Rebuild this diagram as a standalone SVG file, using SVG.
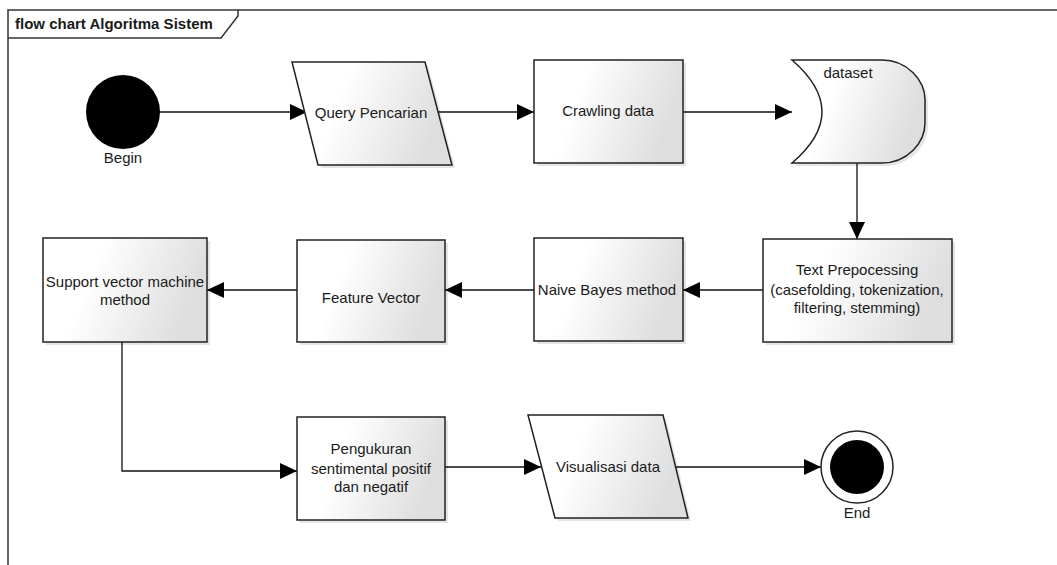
<svg xmlns="http://www.w3.org/2000/svg" width="1057" height="565" viewBox="0 0 1057 565">
<style>
.t{font-family:"Liberation Sans",Arial,sans-serif;font-size:15px;fill:#1a1a1a;text-anchor:middle}
.shape{fill:url(#g);stroke:#222;stroke-width:1.5}
.sh{fill:#000;opacity:0.1}
.c{fill:none;stroke:#111;stroke-width:1.3}
</style>
<defs>
<linearGradient id="g" x1="0" y1="0" x2="1" y2="0.25">
<stop offset="0.35" stop-color="#ffffff"/>
<stop offset="1" stop-color="#dedede"/>
</linearGradient>
<marker id="a" markerWidth="18" markerHeight="16" refX="17" refY="8" orient="auto" markerUnits="userSpaceOnUse">
<path d="M0,0 L17,8 L0,16 Z" fill="#000"/>
</marker>
</defs>
<rect width="1057" height="565" fill="#ffffff"/>
<g id="frame">
<path d="M8,565 L8,10 L1057,10" fill="none" stroke="#333" stroke-width="1.5"/>
<path d="M8,38 L221,38 L238,16 L238,10" fill="none" stroke="#333" stroke-width="1.5"/>
<text x="15" y="29" style="font-family:'Liberation Sans',Arial,sans-serif;font-size:15px;font-weight:bold;fill:#1a1a1a">flow chart Algoritma Sistem</text>
</g>
<g id="connectors">
<line class="c" x1="160" y1="112" x2="307" y2="112" marker-end="url(#a)"/>
<line class="c" x1="438" y1="112" x2="534" y2="112" marker-end="url(#a)"/>
<line class="c" x1="683" y1="112" x2="792" y2="112" marker-end="url(#a)"/>
<line class="c" x1="857" y1="163" x2="857" y2="239" marker-end="url(#a)"/>
<line class="c" x1="763" y1="290" x2="683" y2="290" marker-end="url(#a)"/>
<line class="c" x1="534" y1="290" x2="445" y2="290" marker-end="url(#a)"/>
<line class="c" x1="297" y1="290" x2="207" y2="290" marker-end="url(#a)"/>
<polyline class="c" points="122,342 122,471 297,471" marker-end="url(#a)"/>
<line class="c" x1="445" y1="467" x2="541" y2="467" marker-end="url(#a)"/>
<line class="c" x1="676" y1="467" x2="821" y2="467" marker-end="url(#a)"/>
</g>
<g id="begin">
<circle cx="123" cy="112" r="37" fill="#000"/>
<text class="t" x="123" y="163">Begin</text>
</g>
<g id="query">
<polygon class="sh" points="295,65 428,65 455,168 321,168"/>
<polygon class="shape" points="292,62 425,62 452,165 318,165"/>
<text class="t" x="371" y="118">Query Pencarian</text>
</g>
<g id="crawling">
<rect class="sh" x="537" y="63" width="149" height="103"/>
<rect class="shape" x="534" y="60" width="149" height="103"/>
<text class="t" x="608" y="116">Crawling data</text>
</g>
<g id="dataset">
<path class="sh" d="M795,63 L885,63 C910,63 928,83 928,103 L928,126 C928,146 910,166 885,166 L795,166 Q855,115 795,63 Z"/>
<path class="shape" d="M792,60 L882,60 C907,60 925,80 925,100 L925,123 C925,143 907,163 882,163 L792,163 Q852,112 792,60 Z"/>
<text class="t" x="848" y="78">dataset</text>
</g>
<g id="textprep">
<rect class="sh" x="766" y="242" width="189" height="103"/>
<rect class="shape" x="763" y="239" width="189" height="103"/>
<text class="t" x="857" y="275">Text Prepocessing</text>
<text class="t" x="857" y="295">(casefolding, tokenization,</text>
<text class="t" x="857" y="313">filtering, stemming)</text>
</g>
<g id="naive">
<rect class="sh" x="537" y="241" width="149" height="103"/>
<rect class="shape" x="534" y="238" width="149" height="103"/>
<text class="t" x="607" y="295">Naive Bayes method</text>
</g>
<g id="feature">
<rect class="sh" x="300" y="243" width="148" height="102"/>
<rect class="shape" x="297" y="240" width="148" height="102"/>
<text class="t" x="371" y="303">Feature Vector</text>
</g>
<g id="svm">
<rect class="sh" x="46" y="241" width="164" height="104"/>
<rect class="shape" x="43" y="238" width="164" height="104"/>
<text class="t" x="125" y="287">Support vector machine</text>
<text class="t" x="125" y="305">method</text>
</g>
<g id="pengukuran">
<rect class="sh" x="300" y="420" width="148" height="103"/>
<rect class="shape" x="297" y="417" width="148" height="103"/>
<text class="t" x="371" y="454">Pengukuran</text>
<text class="t" x="371" y="474">sentimental positif</text>
<text class="t" x="371" y="492">dan negatif</text>
</g>
<g id="visualisasi">
<polygon class="sh" points="531,418 666,418 691,521 558,521"/>
<polygon class="shape" points="528,415 663,415 688,518 555,518"/>
<text class="t" x="608" y="472">Visualisasi data</text>
</g>
<g id="end">
<circle cx="857" cy="467" r="36" fill="#fff" stroke="#222" stroke-width="1.5"/>
<circle cx="857" cy="467" r="27" fill="#000"/>
<text class="t" x="857" y="518">End</text>
</g>
</svg>
